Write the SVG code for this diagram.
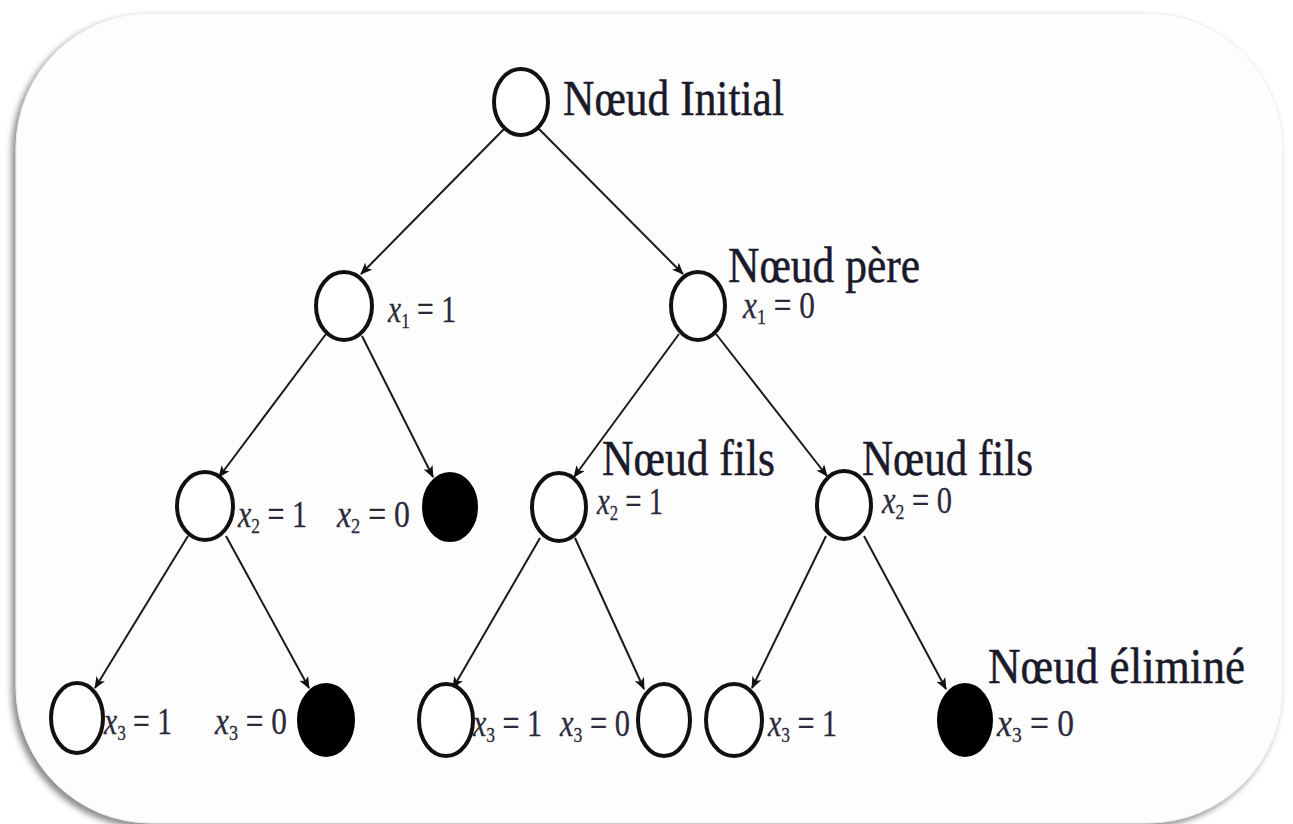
<svg xmlns="http://www.w3.org/2000/svg" width="1293" height="824" viewBox="0 0 1293 824">
  <defs>
    <filter id="cardShadow" x="-5%" y="-5%" width="110%" height="110%">
      <feDropShadow dx="-4" dy="4" stdDeviation="3" flood-color="#6e6e6e" flood-opacity="0.8"/>
    </filter>
    <marker id="arrow" viewBox="0 0 12 10" refX="11" refY="5" markerWidth="12" markerHeight="10" markerUnits="userSpaceOnUse" orient="auto">
      <path d="M0,0 L12,5 L0,10 L3,5 Z" fill="#111"/>
    </marker>
    <style>
      .node { fill: #fff; stroke: #111; stroke-width: 4; }
      .cut { fill: #000; stroke: #000; stroke-width: 2; }
      .edge { stroke: #1a1a1a; stroke-width: 2; fill: none; marker-end: url(#arrow); }
      .title { font-family: "Liberation Serif", "Times New Roman", serif; font-size: 50px; fill: #1a1a2a; stroke: #1a1a2a; stroke-width: 0.5; }
      .var { font-family: "Liberation Serif", "Times New Roman", serif; font-size: 38px; fill: #2a2a3a; stroke: #2a2a3a; stroke-width: 0.3; }
      .var .x { font-style: italic; }
      .var .sub { font-size: 22px; }
    </style>
  </defs>

  <rect x="0" y="0" width="1293" height="824" fill="#ffffff"/>
  <!-- card background -->
  <rect x="16" y="13" width="1267" height="810" rx="135" ry="135" fill="#fdfdfd" stroke="#ececec" stroke-width="1" filter="url(#cardShadow)"/>

  <!-- connectors -->
  <g id="connectors">
    <line class="edge" x1="505" y1="128" x2="361" y2="274"/>
    <line class="edge" x1="538" y1="128" x2="683" y2="274"/>
    <line class="edge" x1="326" y1="334" x2="219" y2="477"/>
    <line class="edge" x1="362" y1="336" x2="433" y2="477"/>
    <line class="edge" x1="679" y1="334" x2="574" y2="477"/>
    <line class="edge" x1="716" y1="334" x2="827" y2="476"/>
    <line class="edge" x1="188" y1="536" x2="95" y2="688"/>
    <line class="edge" x1="226" y1="536" x2="309" y2="688"/>
    <line class="edge" x1="540" y1="538" x2="453" y2="688"/>
    <line class="edge" x1="575" y1="538" x2="644" y2="689"/>
    <line class="edge" x1="826" y1="536" x2="752" y2="688"/>
    <line class="edge" x1="864" y1="536" x2="946" y2="689"/>
  </g>

  <!-- root -->
  <g id="n-root">
    <ellipse class="node" cx="521" cy="102" rx="27" ry="33"/>
    <text class="title" x="563" y="115" textLength="221" lengthAdjust="spacingAndGlyphs">Nœud Initial</text>
  </g>

  <!-- level 1 -->
  <g id="n-x1-1">
    <ellipse class="node" cx="344" cy="306" rx="28" ry="34"/>
    <text class="var" x="388" y="322" textLength="68" lengthAdjust="spacingAndGlyphs"><tspan class="x">x</tspan><tspan class="sub" dy="6">1</tspan><tspan dy="-6"> = 1</tspan></text>
  </g>
  <g id="n-x1-0">
    <ellipse class="node" cx="698" cy="306" rx="27" ry="34"/>
    <text class="title" x="728" y="282" textLength="192" lengthAdjust="spacingAndGlyphs">Nœud père</text>
    <text class="var" x="743" y="318" textLength="72" lengthAdjust="spacingAndGlyphs"><tspan class="x">x</tspan><tspan class="sub" dy="6">1</tspan><tspan dy="-6"> = 0</tspan></text>
  </g>

  <!-- level 2 -->
  <g id="n-x2-11">
    <ellipse class="node" cx="205" cy="506" rx="28" ry="34"/>
    <text class="var" x="238" y="527" textLength="69" lengthAdjust="spacingAndGlyphs"><tspan class="x">x</tspan><tspan class="sub" dy="6">2</tspan><tspan dy="-6"> = 1</tspan></text>
  </g>
  <g id="n-x2-10">
    <ellipse class="cut" cx="450" cy="507" rx="27" ry="34"/>
    <text class="var" x="337" y="527" textLength="73" lengthAdjust="spacingAndGlyphs"><tspan class="x">x</tspan><tspan class="sub" dy="6">2</tspan><tspan dy="-6"> = 0</tspan></text>
  </g>
  <g id="n-x2-01">
    <ellipse class="node" cx="559" cy="507" rx="27" ry="34"/>
    <text class="title" x="602" y="475" textLength="173" lengthAdjust="spacingAndGlyphs">Nœud fils</text>
    <text class="var" x="597" y="514" textLength="66" lengthAdjust="spacingAndGlyphs"><tspan class="x">x</tspan><tspan class="sub" dy="6">2</tspan><tspan dy="-6"> = 1</tspan></text>
  </g>
  <g id="n-x2-00">
    <ellipse class="node" cx="844" cy="505" rx="27" ry="34"/>
    <text class="title" x="862" y="475" textLength="171" lengthAdjust="spacingAndGlyphs">Nœud fils</text>
    <text class="var" x="882" y="513" textLength="70" lengthAdjust="spacingAndGlyphs"><tspan class="x">x</tspan><tspan class="sub" dy="6">2</tspan><tspan dy="-6"> = 0</tspan></text>
  </g>

  <!-- level 3 -->
  <g id="n-x3-111">
    <ellipse class="node" cx="77" cy="718" rx="26" ry="35"/>
    <text class="var" x="104" y="734" textLength="68" lengthAdjust="spacingAndGlyphs"><tspan class="x">x</tspan><tspan class="sub" dy="6">3</tspan><tspan dy="-6"> = 1</tspan></text>
  </g>
  <g id="n-x3-110">
    <ellipse class="cut" cx="326" cy="720" rx="28" ry="36"/>
    <text class="var" x="215" y="734" textLength="72" lengthAdjust="spacingAndGlyphs"><tspan class="x">x</tspan><tspan class="sub" dy="6">3</tspan><tspan dy="-6"> = 0</tspan></text>
  </g>
  <g id="n-x3-011">
    <ellipse class="node" cx="446" cy="720" rx="27" ry="36"/>
    <text class="var" x="473" y="736" textLength="69" lengthAdjust="spacingAndGlyphs"><tspan class="x">x</tspan><tspan class="sub" dy="6">3</tspan><tspan dy="-6"> = 1</tspan></text>
  </g>
  <g id="n-x3-010">
    <ellipse class="node" cx="664" cy="720" rx="26" ry="36"/>
    <text class="var" x="560" y="736" textLength="70" lengthAdjust="spacingAndGlyphs"><tspan class="x">x</tspan><tspan class="sub" dy="6">3</tspan><tspan dy="-6"> = 0</tspan></text>
  </g>
  <g id="n-x3-001">
    <ellipse class="node" cx="734" cy="720" rx="28" ry="36"/>
    <text class="var" x="768" y="736" textLength="69" lengthAdjust="spacingAndGlyphs"><tspan class="x">x</tspan><tspan class="sub" dy="6">3</tspan><tspan dy="-6"> = 1</tspan></text>
  </g>
  <g id="n-x3-000">
    <ellipse class="cut" cx="965" cy="720" rx="27" ry="36"/>
    <text class="title" x="988" y="683" textLength="257" lengthAdjust="spacingAndGlyphs">Nœud éliminé</text>
    <text class="var" x="997" y="736" textLength="77" lengthAdjust="spacingAndGlyphs"><tspan class="x">x</tspan><tspan class="sub" dy="6">3</tspan><tspan dy="-6"> = 0</tspan></text>
  </g>
</svg>
